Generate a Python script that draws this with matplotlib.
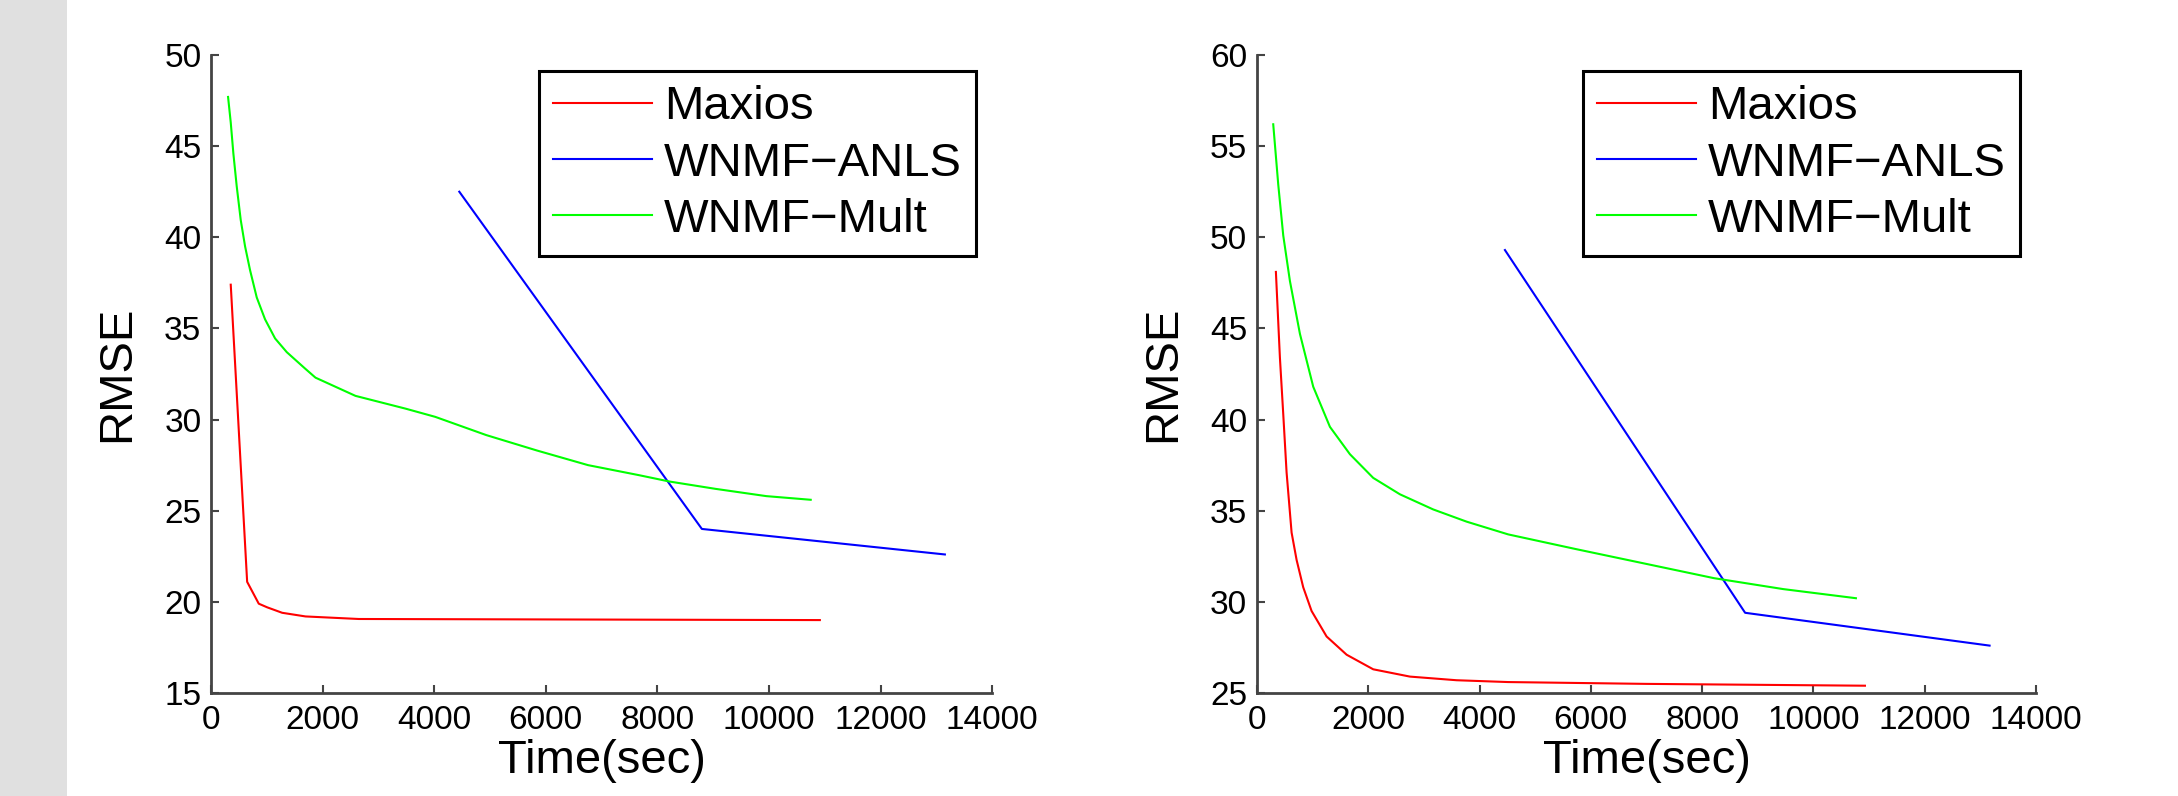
import matplotlib
matplotlib.use('Agg')
import matplotlib.pyplot as plt
from matplotlib.patches import Rectangle

plt.rcParams['font.family'] = ['Liberation Sans', 'DejaVu Sans']

labels = ['Maxios', 'WNMF\u2212ANLS', 'WNMF\u2212Mult']
colors = ['#ff0000', '#0000ff', '#00ff00']

# left panel
left_maxios_t = [353, 647, 855, 1006, 1275, 1693, 2648, 10913]
left_maxios_v = [37.4, 21.1, 19.9, 19.7, 19.4, 19.2, 19.06, 19.0]
left_anls_t = [4450, 8798, 13154]
left_anls_v = [42.5, 24.0, 22.6]
left_mult_t = [305, 353, 400, 460, 532, 610, 699, 819, 968, 1148, 1357, 1685,
               1872, 2589, 3486, 4018, 4932, 5845, 6758, 7671, 8219, 9041,
               9954, 10749]
left_mult_v = [47.7, 46.3, 44.6, 42.8, 40.95, 39.5, 38.2, 36.7, 35.5, 34.45,
               33.7, 32.8, 32.3, 31.3, 30.6, 30.15, 29.15, 28.3, 27.5, 26.95,
               26.6, 26.2, 25.8, 25.6]

# right panel
right_maxios_t = [341, 413, 473, 533, 623, 713, 832, 982, 1252, 1612, 2090,
                  2749, 3588, 4516, 7000, 10926]
right_maxios_v = [48.1, 43.4, 40.3, 37.1, 33.8, 32.3, 30.8, 29.5, 28.1, 27.1, 26.3,
                  25.9, 25.7, 25.6, 25.5, 25.4]
right_anls_t = [4457, 8773, 13166]
right_anls_v = [49.3, 29.4, 27.6]
right_mult_t = [293, 383, 473, 593, 773, 1012, 1312, 1671, 2090, 2570, 3168,
                3768, 4516, 5724, 6969, 8213, 9458, 10764]
right_mult_v = [56.2, 52.9, 50.1, 47.6, 44.7, 41.8, 39.6, 38.1, 36.8, 35.9, 35.07,
                34.4, 33.7, 32.9, 32.1, 31.3, 30.7, 30.2]

x_ticks = [0, 2000, 4000, 6000, 8000, 10000, 12000, 14000]
left_y_ticks = [15, 20, 25, 30, 35, 40, 45, 50]
right_y_ticks = [25, 30, 35, 40, 45, 50, 55, 60]


def draw_panel(ax, series, y_ticks):
    for (t, v), color, label in zip(series, colors, labels):
        ax.plot(t, v, color=color, linewidth=1.5, label=label)
    ax.set_xlim(0, 14000)
    ax.set_ylim(y_ticks[0], y_ticks[-1])
    ax.set_xticks(x_ticks)
    ax.set_yticks(y_ticks)
    for side in ['top', 'right']:
        ax.spines[side].set_visible(False)
    for side in ['left', 'bottom']:
        ax.spines[side].set_linewidth(2)
        ax.spines[side].set_color('#444444')
    ax.tick_params(direction='in', length=6, width=1.5, color='#444444',
                   labelsize=24)
    ax.tick_params(axis='x', pad=9)
    ax.tick_params(axis='y', pad=7)
    ax.set_xlabel('Time(sec)', fontsize=34, labelpad=2)
    ax.set_ylabel('RMSE', fontsize=34, labelpad=18)
    leg = ax.legend(loc='upper right', fontsize=34, borderpad=0.3,
                    labelspacing=0.26, handlelength=2.1, handletextpad=0.25,
                    borderaxespad=0.34, fancybox=False, framealpha=1)
    leg.get_frame().set_edgecolor('black')
    leg.get_frame().set_linewidth(2.2)


fig = plt.figure(figsize=(21.78, 7.96), dpi=100)
fig.patches.append(Rectangle((0, 0), 67 / 2178, 1, transform=fig.transFigure,
                             facecolor='#e0e0e0', edgecolor='none', zorder=0))

ax1 = fig.add_axes([0.0969, 0.1294, 0.3586, 0.8015])
ax2 = fig.add_axes([0.5771, 0.1294, 0.3577, 0.8015])

draw_panel(ax1, [(left_maxios_t, left_maxios_v), (left_anls_t, left_anls_v),
                 (left_mult_t, left_mult_v)], left_y_ticks)
draw_panel(ax2, [(right_maxios_t, right_maxios_v), (right_anls_t, right_anls_v),
                 (right_mult_t, right_mult_v)], right_y_ticks)

fig.savefig('out.png', dpi=100)
